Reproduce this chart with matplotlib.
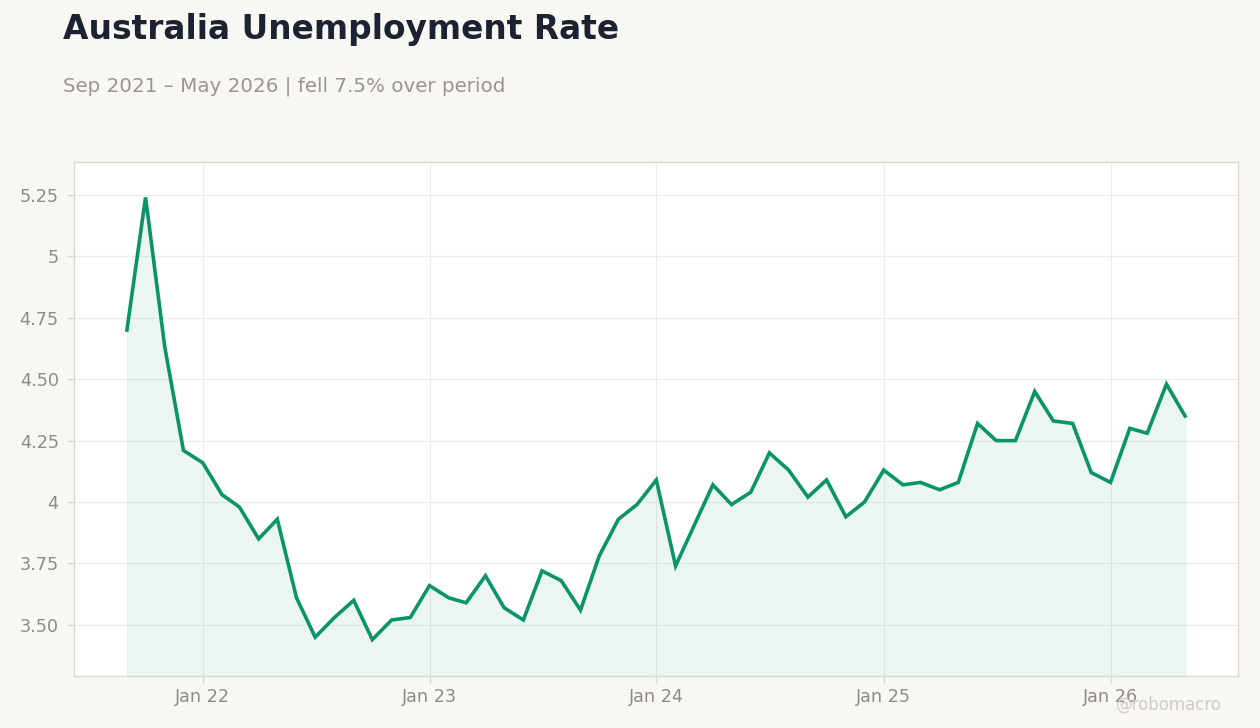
import matplotlib
matplotlib.use("Agg")
import matplotlib.pyplot as plt
import matplotlib.dates as mdates
import pandas as pd
import numpy as np

# ---- data ----
start_month = "2021-09-01"
end_month = "2026-05-01"
rates = [
    4.70, 5.24, 4.63, 4.21, 4.16, 4.03, 3.98, 3.85, 3.93, 3.61,
    3.45, 3.53, 3.60, 3.44, 3.52, 3.53, 3.66, 3.61, 3.59, 3.70,
    3.57, 3.52, 3.72, 3.68, 3.56, 3.78, 3.93, 3.99, 4.09, 3.74,
    3.90, 4.07, 3.99, 4.04, 4.20, 4.13, 4.02, 4.09, 3.94, 4.00,
    4.13, 4.07, 4.08, 4.05, 4.08, 4.32, 4.25, 4.25, 4.45, 4.33,
    4.32, 4.12, 4.08, 4.30, 4.28, 4.48, 4.35,
]
ytick_vals = [3.5, 3.75, 4.0, 4.25, 4.5, 4.75, 5.0, 5.25]
ytick_labels = ["3.50", "3.75", "4", "4.25", "4.50", "4.75", "5", "5.25"]
xtick_dates = ["2022-01-01", "2023-01-01", "2024-01-01", "2025-01-01", "2026-01-01"]
xtick_labels = ["Jan 22", "Jan 23", "Jan 24", "Jan 25", "Jan 26"]
title = "Australia Unemployment Rate"
subtitle = "Sep 2021 – May 2026 | fell 7.5% over period"
watermark = "@robomacro"

dates = pd.date_range(start_month, end_month, freq="MS")

# ---- style ----
bg = "#f8f7f4"
green = "#0b9467"
grid_c = "#ececec"
spine_c = "#ddd8cc"
tick_c = "#8f8b87"

fig = plt.figure(figsize=(12.6, 7.28), dpi=100, facecolor=bg)
ax = fig.add_axes([74 / 1260, 1 - 676 / 728, (1238 - 74) / 1260, (676 - 162) / 728])
ax.set_facecolor("white")

ymin, ymax = 3.292, 5.384
ax.fill_between(dates, rates, ymin, color=green, alpha=0.08, linewidth=0.8)
ax.plot(dates, rates, color=green, linewidth=2.6, solid_joinstyle="miter")

ax.set_ylim(ymin, ymax)
ax.margins(x=0.05)
ax.set_yticks(ytick_vals)
ax.set_yticklabels(ytick_labels)
ax.set_xticks([mdates.date2num(pd.Timestamp(d)) for d in xtick_dates])
ax.set_xticklabels(xtick_labels)

ax.grid(True, color=grid_c, linewidth=0.8)
ax.set_axisbelow(True)
for s in ax.spines.values():
    s.set_color(spine_c)
    s.set_linewidth(1.0)
ax.tick_params(axis="both", colors=spine_c, labelcolor=tick_c, labelsize=12.7,
               length=5, width=1)
ax.tick_params(axis="x", pad=4)
ax.tick_params(axis="y", pad=6)

fig.text(63 / 1260, 1 - 30 / 728, title, fontsize=23.7, fontweight="bold",
         color="#1b2333", va="center", ha="left")
fig.text(63 / 1260, 1 - 86 / 728, subtitle, fontsize=14.3, color="#9a9590",
         va="center", ha="left")
fig.text(1222 / 1260, 1 - 705 / 728, watermark, fontsize=12, color="#cfcbc6",
         va="center", ha="right")

fig.savefig("out.png", dpi=100, facecolor=bg)
